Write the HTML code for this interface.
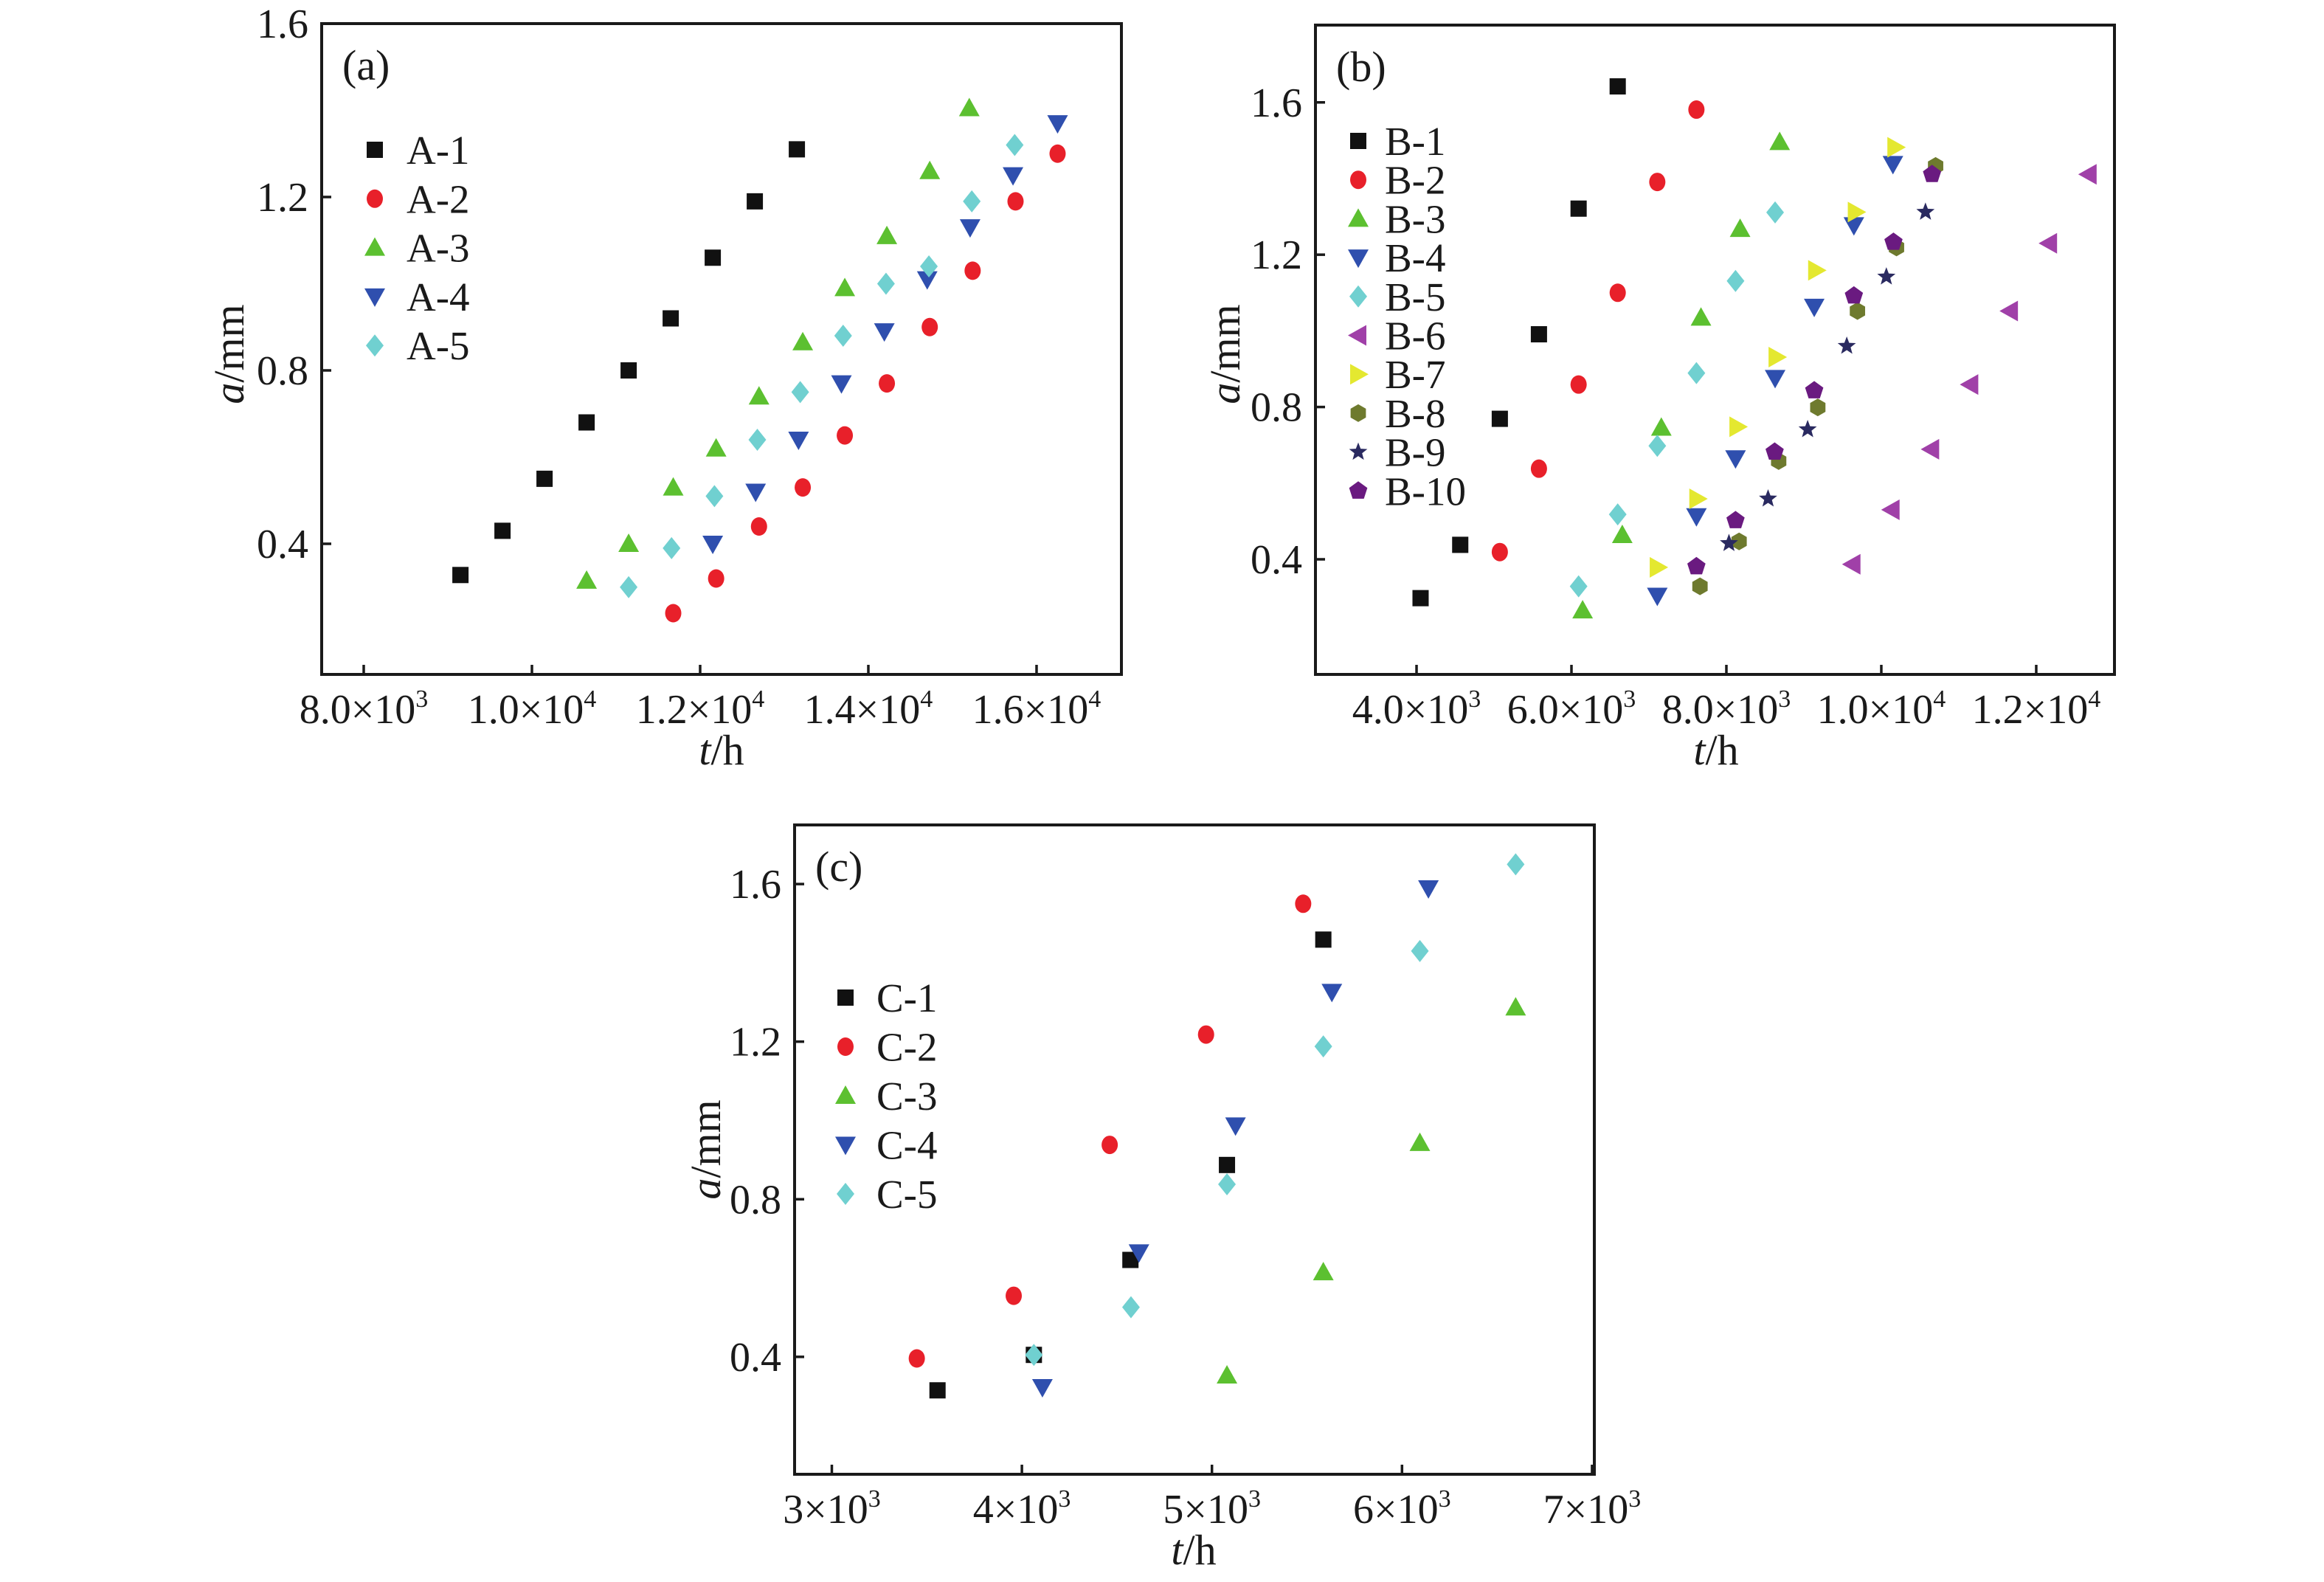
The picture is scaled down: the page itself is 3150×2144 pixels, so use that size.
<!DOCTYPE html>
<html><head><meta charset="utf-8"><style>
html,body{margin:0;padding:0;background:#fff;}
svg{display:block;font-family:"Liberation Serif",serif;}
</style></head><body>
<svg id="fig" width="3150" height="2144" viewBox="0 0 3150 2144" xmlns="http://www.w3.org/2000/svg"></svg>
<script>
// ---- Panel A data ----
const aNames = ["A-1","A-2","A-3","A-4","A-5"];
const aT1 = [9150,9650,10150,10650,11150,11650,12150,12650,13150];
const aA1 = [0.328,0.43,0.55,0.68,0.80,0.92,1.06,1.19,1.31];
const aT2 = [11680,12190,12700,13220,13720,14220,14730,15240,15750,16250];
const aA2 = [0.24,0.32,0.44,0.53,0.65,0.77,0.90,1.03,1.19,1.30];
const aT3 = [10650,11150,11680,12190,12700,13220,13720,14220,14730,15200];
const aA3 = [0.315,0.40,0.53,0.62,0.74,0.865,0.99,1.11,1.26,1.405];
const aT4 = [12150,12660,13170,13680,14190,14700,15210,15720,16250];
const aA4 = [0.40,0.52,0.64,0.77,0.89,1.01,1.13,1.25,1.37];
const aT5 = [11150,11660,12170,12680,13190,13700,14210,14720,15230,15740];
const aA5 = [0.30,0.39,0.51,0.64,0.75,0.88,1.00,1.04,1.19,1.32];
const aXTicks = [8000,10000,12000,14000,16000];
const aXTickLabels = [["8.0×10","3"],["1.0×10","4"],["1.2×10","4"],["1.4×10","4"],["1.6×10","4"]];
const aYTicks = [0.4,0.8,1.2,1.6];
const aYTickLabels = ["0.4","0.8","1.2","1.6"];
// ---- Panel B data ----
const bNames = ["B-1","B-2","B-3","B-4","B-5","B-6","B-7","B-8","B-9","B-10"];
const bT1 = [4052,4564,5075,5580,6092,6597];
const bA1 = [0.298,0.438,0.769,0.991,1.321,1.642];
const bT2 = [5075,5580,6092,6597,7108,7613];
const bA2 = [0.419,0.638,0.859,1.10,1.391,1.581];
const bT3 = [6144,6656,7160,7672,8177,8688];
const bA3 = [0.266,0.464,0.746,1.035,1.268,1.496];
const bT4 = [7108,7613,8118,8629,9134,9646,10150];
const bA4 = [0.304,0.513,0.665,0.876,1.063,1.277,1.438];
const bT5 = [6092,6597,7108,7613,8118,8629];
const bA5 = [0.329,0.518,0.698,0.889,1.131,1.311];
const bT6 = [9626,10131,10642,11147,11659,12164,12675];
const bA6 = [0.387,0.53,0.689,0.859,1.052,1.23,1.411];
const bT7 = [7115,7626,8144,8649,9160,9672,10183];
const bA7 = [0.379,0.559,0.748,0.931,1.159,1.312,1.482];
const bT8 = [7659,8164,8675,9180,9692,10196,10701];
const bA8 = [0.329,0.447,0.658,0.799,1.052,1.219,1.433];
const bT9 = [8033,8538,9049,9554,10065,10570];
const bA9 = [0.442,0.559,0.741,0.96,1.142,1.312];
const bT10 = [7613,8118,8623,9134,9646,10157,10655];
const bA10 = [0.381,0.502,0.682,0.843,1.092,1.233,1.411];
const bXTicks = [4000,6000,8000,10000,12000];
const bXTickLabels = [["4.0×10","3"],["6.0×10","3"],["8.0×10","3"],["1.0×10","4"],["1.2×10","4"]];
const bYTicks = [0.4,0.8,1.2,1.6];
const bYTickLabels = ["0.4","0.8","1.2","1.6"];
// ---- Panel C data ----
const cNames = ["C-1","C-2","C-3","C-4","C-5"];
const cT1 = [3556,4063,4571,5079,5586];
const cA1 = [0.315,0.405,0.646,0.887,1.459];
const cT2 = [3447,3957,4462,4969,5480];
const cA2 = [0.396,0.555,0.938,1.218,1.55];
const cT3 = [5079,5586,6094,6598];
const cA3 = [0.353,0.615,0.943,1.287];
const cT4 = [4108,4616,5124,5631,6139];
const cA4 = [0.323,0.665,0.987,1.326,1.589];
const cT5 = [4063,4574,5079,5586,6094,6598];
const cA5 = [0.405,0.526,0.838,1.188,1.43,1.65];
const cXTicks = [3000,4000,5000,6000,7000];
const cXTickLabels = [["3×10","3"],["4×10","3"],["5×10","3"],["6×10","3"],["7×10","3"]];
const cYTicks = [0.4,0.8,1.2,1.6];
const cYTickLabels = ["0.4","0.8","1.2","1.6"];

const NS="http://www.w3.org/2000/svg";
const svg=document.getElementById('fig');
function el(tag,attrs,parent){const e=document.createElementNS(NS,tag);for(const k in attrs)e.setAttribute(k,attrs[k]);(parent||svg).appendChild(e);return e;}

const styles={
 square:"#111111",circle:"#e8202a",up:"#5cc030",down:"#2f4fae",diamond:"#70d0d0",
 left:"#a040a8",right:"#e4e830",hex:"#6e7a2e",star:"#2a2a60",pent:"#6a1a80"};
function marker(g,shape,x,y,color){
 let m;const s=11;
 if(shape==="square"){m=el('rect',{x:x-s,y:y-s,width:2*s,height:2*s,fill:color},g);}
 else if(shape==="circle"){m=el('ellipse',{cx:x,cy:y,rx:11,ry:12.5,fill:color},g);}
 else{
  let pts=[];
  if(shape==="up")pts=[[0,-14],[14,11],[-14,11]];
  else if(shape==="down")pts=[[0,14],[14,-11],[-14,-11]];
  else if(shape==="left")pts=[[-14,0],[11,-14],[11,14]];
  else if(shape==="right")pts=[[14,0],[-11,-14],[-11,14]];
  else if(shape==="diamond")pts=[[0,-15],[12,0],[0,15],[-12,0]];
  else if(shape==="hex"){for(let i=0;i<6;i++){const a=Math.PI/3*i+Math.PI/6;pts.push([12*Math.cos(a),12*Math.sin(a)]);}}
  else if(shape==="pent"){for(let i=0;i<5;i++){const a=-Math.PI/2+2*Math.PI/5*i;pts.push([13*Math.cos(a),13*Math.sin(a)]);}}
  else if(shape==="star"){for(let i=0;i<10;i++){const r=i%2?5.5:13;const a=-Math.PI/2+Math.PI/5*i;pts.push([r*Math.cos(a),r*Math.sin(a)]);}}
  m=el('polygon',{points:pts.map(p=>(x+p[0])+','+(y+p[1])).join(' '),fill:color},g);
 }
 return m;
}

function panel(cfg){
 const g=el('g',{});
 
 
 const {L,R,T,B,x0,x1,y0,y1}=cfg;
 const sx=v=>L+(v-x0)/(x1-x0)*(R-L);
 const sy=v=>B-(v-y0)/(y1-y0)*(B-T);
 const fr=el('rect',{x:L,y:T,width:R-L,height:B-T,fill:"none",stroke:"#1a1a1a","stroke-width":4},g);
 
 
 cfg.xt.forEach((v,i)=>{
  const x=sx(v);
  const tk=el('line',{x1:x,x2:x,y1:B,y2:B-13,stroke:"#1a1a1a","stroke-width":3.5},g);
  
  
  const t=el('text',{x:x,y:B+66,"text-anchor":"middle","font-size":56,fill:"#1a1a1a"},g);
  
  
  const a=el('tspan',{},t);a.textContent=cfg.xl[i][0];
  const b=el('tspan',{"font-size":34,dy:-22},t);b.textContent=cfg.xl[i][1];
 });
 cfg.yt.forEach((v,i)=>{
  const y=sy(v);
  const tk=el('line',{x1:L,x2:L+13,y1:y,y2:y,stroke:"#1a1a1a","stroke-width":3.5},g);
  
  
  const t=el('text',{x:L-18,y:y+19,"text-anchor":"end","font-size":56,fill:"#1a1a1a"},g);
  
  
  t.textContent=cfg.yl[i];
 });
 const xt=el('text',{x:cfg.xlab[0],y:cfg.xlab[1],"text-anchor":"middle","font-size":58,fill:"#1a1a1a"},g);
 
 
 const i1=el('tspan',{"font-style":"italic"},xt);i1.textContent="t";
 const i2=el('tspan',{},xt);i2.textContent="/h";
 const yt=el('text',{x:0,y:0,"text-anchor":"middle","font-size":58,fill:"#1a1a1a",transform:`translate(${cfg.ylab[0]},${cfg.ylab[1]}) rotate(-90)`},g);
 
 
 const j1=el('tspan',{"font-style":"italic"},yt);j1.textContent="a";
 const j2=el('tspan',{},yt);j2.textContent="/mm";
 const pl=el('text',{x:L+28,y:T+76,"font-size":58,fill:"#1a1a1a"},g);
 
 
 pl.textContent=cfg.label;
 cfg.series.forEach((s,k)=>{
  const sg=el('g',{},g);
  
  
  s.t.forEach((tv,i)=>{
   const m=marker(sg,s.shape,sx(tv),sy(s.a[i]),styles[s.shape]);
   
   
  });
  const ly=cfg.leg[1]+k*cfg.leg[3];
  const lg=el('g',{},g);
  
  
  marker(lg,s.shape,cfg.leg[0],ly,styles[s.shape]);
  const lt=el('text',{x:cfg.leg[2],y:ly+19,"font-size":55,fill:"#1a1a1a"},lg);
  lt.textContent=s.name;
 });
}
const shapes=["square","circle","up","down","diamond","left","right","hex","star","pent"];
panel({id:"a",label:"(a)",L:436,R:1520,T:32,B:914,x0:7500,x1:17009,y0:0.0987,y1:1.6,
 xt:aXTicks,xl:aXTickLabels,yt:aYTicks,yl:aYTickLabels,xlab:[978,1036],ylab:[330,480],
 leg:[508,203,551,66.3],
 series:[[aT1,aA1],[aT2,aA2],[aT3,aA3],[aT4,aA4],[aT5,aA5]].map((d,i)=>({name:aNames[i],t:d[0],a:d[1],shape:shapes[i]}))});
panel({id:"b",label:"(b)",L:1783,R:2866,T:34,B:914,x0:2695,x1:13010,y0:0.0977,y1:1.803,
 xt:bXTicks,xl:bXTickLabels,yt:bYTicks,yl:bYTickLabels,xlab:[2326,1036],ylab:[1680,480],
 leg:[1841,191,1877,52.7],
 series:[[bT1,bA1],[bT2,bA2],[bT3,bA3],[bT4,bA4],[bT5,bA5],[bT6,bA6],[bT7,bA7],[bT8,bA8],[bT9,bA9],[bT10,bA10]].map((d,i)=>({name:bNames[i],t:d[0],a:d[1],shape:shapes[i]}))});
panel({id:"c",label:"(c)",L:1077,R:2161,T:1118,B:1998,x0:2804,x1:7012,y0:0.102,y1:1.75,
 xt:cXTicks,xl:cXTickLabels,yt:cYTicks,yl:cYTickLabels,xlab:[1618,2120],ylab:[976,1558],
 leg:[1146,1352,1188,66.5],
 series:[[cT1,cA1],[cT2,cA2],[cT3,cA3],[cT4,cA4],[cT5,cA5]].map((d,i)=>({name:cNames[i],t:d[0],a:d[1],shape:shapes[i]}))});
</script>
</body></html>
